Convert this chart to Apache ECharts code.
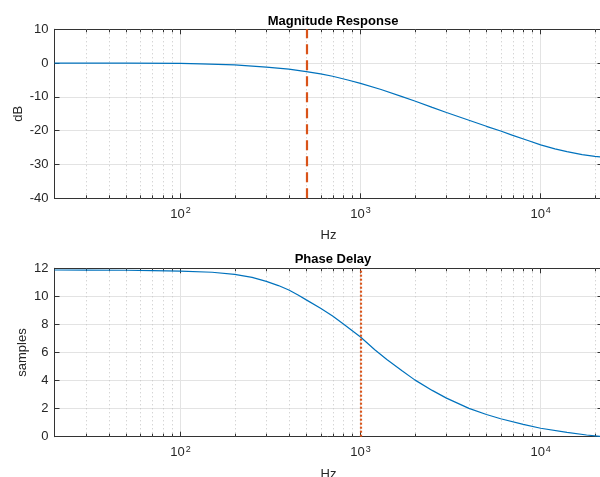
<!DOCTYPE html>
<html>
<head>
<meta charset="utf-8">
<script src="https://cdn.jsdelivr.net/npm/echarts@6/dist/echarts.min.js"></script>
<style>
html,body{margin:0;padding:0;background:#fff;}
#chart{width:600px;height:477px;}
</style>
</head>
<body>
<div id="chart"></div>
<script>
// ---- data ----
const magTitle = 'Magnitude Response';
const delayTitle = 'Phase Delay';
const xName = 'Hz';
const magYName = 'dB';
const delayYName = 'samples';

const magFreq = [20, 50, 100, 130, 200, 300, 400, 500, 600, 700, 850, 1000, 1300, 1700, 2000, 2500, 3000, 4000, 5000, 6000, 7000, 8500, 10000, 12000, 14000, 17000, 20000, 22050];
const magDb   = [0.0, -0.03, -0.1, -0.2, -0.5, -1.2, -1.8, -2.5, -3.2, -3.9, -5.0, -6.0, -7.8, -9.9, -11.2, -13.1, -14.6, -16.9, -18.7, -20.1, -21.4, -22.9, -24.2, -25.4, -26.2, -27.1, -27.6, -27.8];

const delayFreq = [20, 30, 50, 70, 100, 150, 200, 250, 300, 350, 400, 450, 500, 600, 700, 800, 1000, 1200, 1400, 1700, 2000, 2500, 3000, 4000, 5000, 6000, 8000, 10000, 14000, 18000, 22050];
const delaySamples = [11.88, 11.87, 11.86, 11.84, 11.8, 11.72, 11.57, 11.35, 11.07, 10.77, 10.45, 10.1, 9.75, 9.15, 8.6, 8.05, 7.1, 6.2, 5.5, 4.7, 4.05, 3.3, 2.75, 2.02, 1.58, 1.28, 0.88, 0.6, 0.31, 0.12, 0.0];

const magMarkerFreq = 500;     // dashed red line
const delayMarkerFreq = 1000;  // dotted red line

const xMin = 20, xMax = 22050;
const magYMin = -40, magYMax = 10, magYStep = 10;
const delayYMin = 0, delayYMax = 12, delayYStep = 2;

// minor log grid positions (2..9 x 10^k) inside the x range
const minorFreqs = [];
for (let k = 1; k <= 4; k++) {
  for (let m = 2; m <= 9; m++) {
    const f = m * Math.pow(10, k);
    if (f > xMin && f < xMax) minorFreqs.push(f);
  }
}

// ---- styles ----
const FONT = '"Liberation Sans", Arial, Helvetica, sans-serif';
const TXT = '#262626';
const AXIS = '#333333';
const GRID = '#e3e3e3';
const BLUE = '#0072BD';
const RED = '#D95319';

function logLabel(v) {
  const e = Math.log10(v);
  const r = Math.round(e);
  if (Math.abs(e - r) > 1e-6) return '';
  return '{b|10}{s|' + r + '}';
}

function xAxisBottom(gridIndex) {
  return {
    type: 'log', logBase: 10, gridIndex, min: xMin, max: xMax,
    position: 'bottom',
    name: xName, nameLocation: 'middle', nameGap: 31, nameMoveOverlap: false,
    nameTextStyle: {fontFamily: FONT, fontSize: 13, color: TXT},
    axisLine: {show: true, onZero: false, lineStyle: {color: AXIS, width: 1}},
    axisTick: {show: true, inside: true, length: 5, lineStyle: {color: AXIS}},
    axisLabel: {
      show: true, margin: 8, showMinLabel: false, showMaxLabel: false,
      formatter: logLabel,
      rich: {
        b: {fontFamily: FONT, fontSize: 13, color: TXT},
        s: {fontFamily: FONT, fontSize: 9, color: TXT, padding: [0, 0, 7, 1]}
      }
    },
    splitLine: {show: true, lineStyle: {color: GRID, width: 1}}
  };
}
function xAxisTop(gridIndex) {
  return {
    type: 'log', logBase: 10, gridIndex, min: xMin, max: xMax,
    position: 'top',
    axisLine: {show: true, onZero: false, lineStyle: {color: AXIS, width: 1}},
    axisTick: {show: true, inside: true, length: 5, lineStyle: {color: AXIS}},
    axisLabel: {show: false},
    splitLine: {show: false}
  };
}
function yAxisLeft(gridIndex, min, max, step, name, gap) {
  return {
    type: 'value', gridIndex, min, max, interval: step, position: 'left',
    name, nameLocation: 'middle', nameGap: gap, nameMoveOverlap: false,
    nameTextStyle: {fontFamily: FONT, fontSize: 13, color: TXT},
    axisLine: {show: true, onZero: false, lineStyle: {color: AXIS, width: 1}},
    axisTick: {show: true, inside: true, length: 5, lineStyle: {color: AXIS}},
    axisLabel: {fontFamily: FONT, fontSize: 13, color: TXT, margin: 6},
    splitLine: {show: true, lineStyle: {color: GRID, width: 1}}
  };
}
function yAxisRight(gridIndex, min, max, step) {
  return {
    type: 'value', gridIndex, min, max, interval: step, position: 'right',
    axisLine: {show: true, onZero: false, lineStyle: {color: AXIS, width: 1}},
    axisTick: {show: true, inside: true, length: 5, lineStyle: {color: AXIS}},
    axisLabel: {show: false},
    splitLine: {show: false}
  };
}

function minorSeries(xIdx, yIdx) {
  return {
    type: 'custom', xAxisIndex: xIdx, yAxisIndex: yIdx, silent: true, z: 1,
    clip: false,
    data: minorFreqs.map(f => [f, 0]),
    renderItem: function (params, api) {
      const x = Math.round(api.coord([api.value(0), 0])[0]) + 0.5;
      const cs = params.coordSys;
      const top = cs.y, bot = cs.y + cs.height;
      return {
        type: 'group',
        children: [
          {type: 'line', shape: {x1: x, y1: top, x2: x, y2: bot},
           style: {stroke: '#c4c4c4', lineWidth: 1, lineDash: [1, 3]}},
          {type: 'line', shape: {x1: x, y1: bot, x2: x, y2: bot - 3},
           style: {stroke: AXIS, lineWidth: 1}},
          {type: 'line', shape: {x1: x, y1: top, x2: x, y2: top + 3},
           style: {stroke: AXIS, lineWidth: 1}}
        ]
      };
    }
  };
}

const chart = echarts.init(document.getElementById('chart'), null, {renderer: 'canvas'});
chart.setOption({
  animation: false,
  backgroundColor: '#ffffff',
  title: [
    {text: magTitle, left: 328, top: 10, textAlign: 'center',
     textStyle: {fontFamily: FONT, fontSize: 13, fontWeight: 'bold', color: '#000'}},
    {text: delayTitle, left: 328, top: 248, textAlign: 'center',
     textStyle: {fontFamily: FONT, fontSize: 13, fontWeight: 'bold', color: '#000'}}
  ],
  grid: [
    {left: 54.5, top: 29.3, width: 548, height: 169, outerBoundsMode: 'none', containLabel: false},
    {left: 54.5, top: 268.3, width: 548, height: 168.4, outerBoundsMode: 'none', containLabel: false}
  ],
  xAxis: [xAxisBottom(0), xAxisTop(0), xAxisBottom(1), xAxisTop(1)],
  yAxis: [
    yAxisLeft(0, magYMin, magYMax, magYStep, magYName, 30),
    yAxisRight(0, magYMin, magYMax, magYStep),
    yAxisLeft(1, delayYMin, delayYMax, delayYStep, delayYName, 26),
    yAxisRight(1, delayYMin, delayYMax, delayYStep)
  ],
  series: [
    minorSeries(0, 0),
    minorSeries(2, 2),
    {
      type: 'line', xAxisIndex: 0, yAxisIndex: 0, z: 3,
      data: magFreq.map((f, i) => [f, magDb[i]]),
      showSymbol: false, smooth: false,
      lineStyle: {color: BLUE, width: 1.2},
      markLine: {
        silent: true, symbol: 'none', label: {show: false},
        lineStyle: {color: RED, width: 2.2, type: [10, 6]},
        data: [{xAxis: magMarkerFreq}]
      }
    },
    {
      type: 'line', xAxisIndex: 2, yAxisIndex: 2, z: 3,
      data: delayFreq.map((f, i) => [f, delaySamples[i]]),
      showSymbol: false, smooth: false,
      lineStyle: {color: BLUE, width: 1.2},
      markLine: {
        silent: true, symbol: 'none', label: {show: false},
        lineStyle: {color: RED, width: 2.2, type: [2, 2]},
        data: [{xAxis: delayMarkerFreq}]
      }
    }
  ]
});
</script>
</body>
</html>
